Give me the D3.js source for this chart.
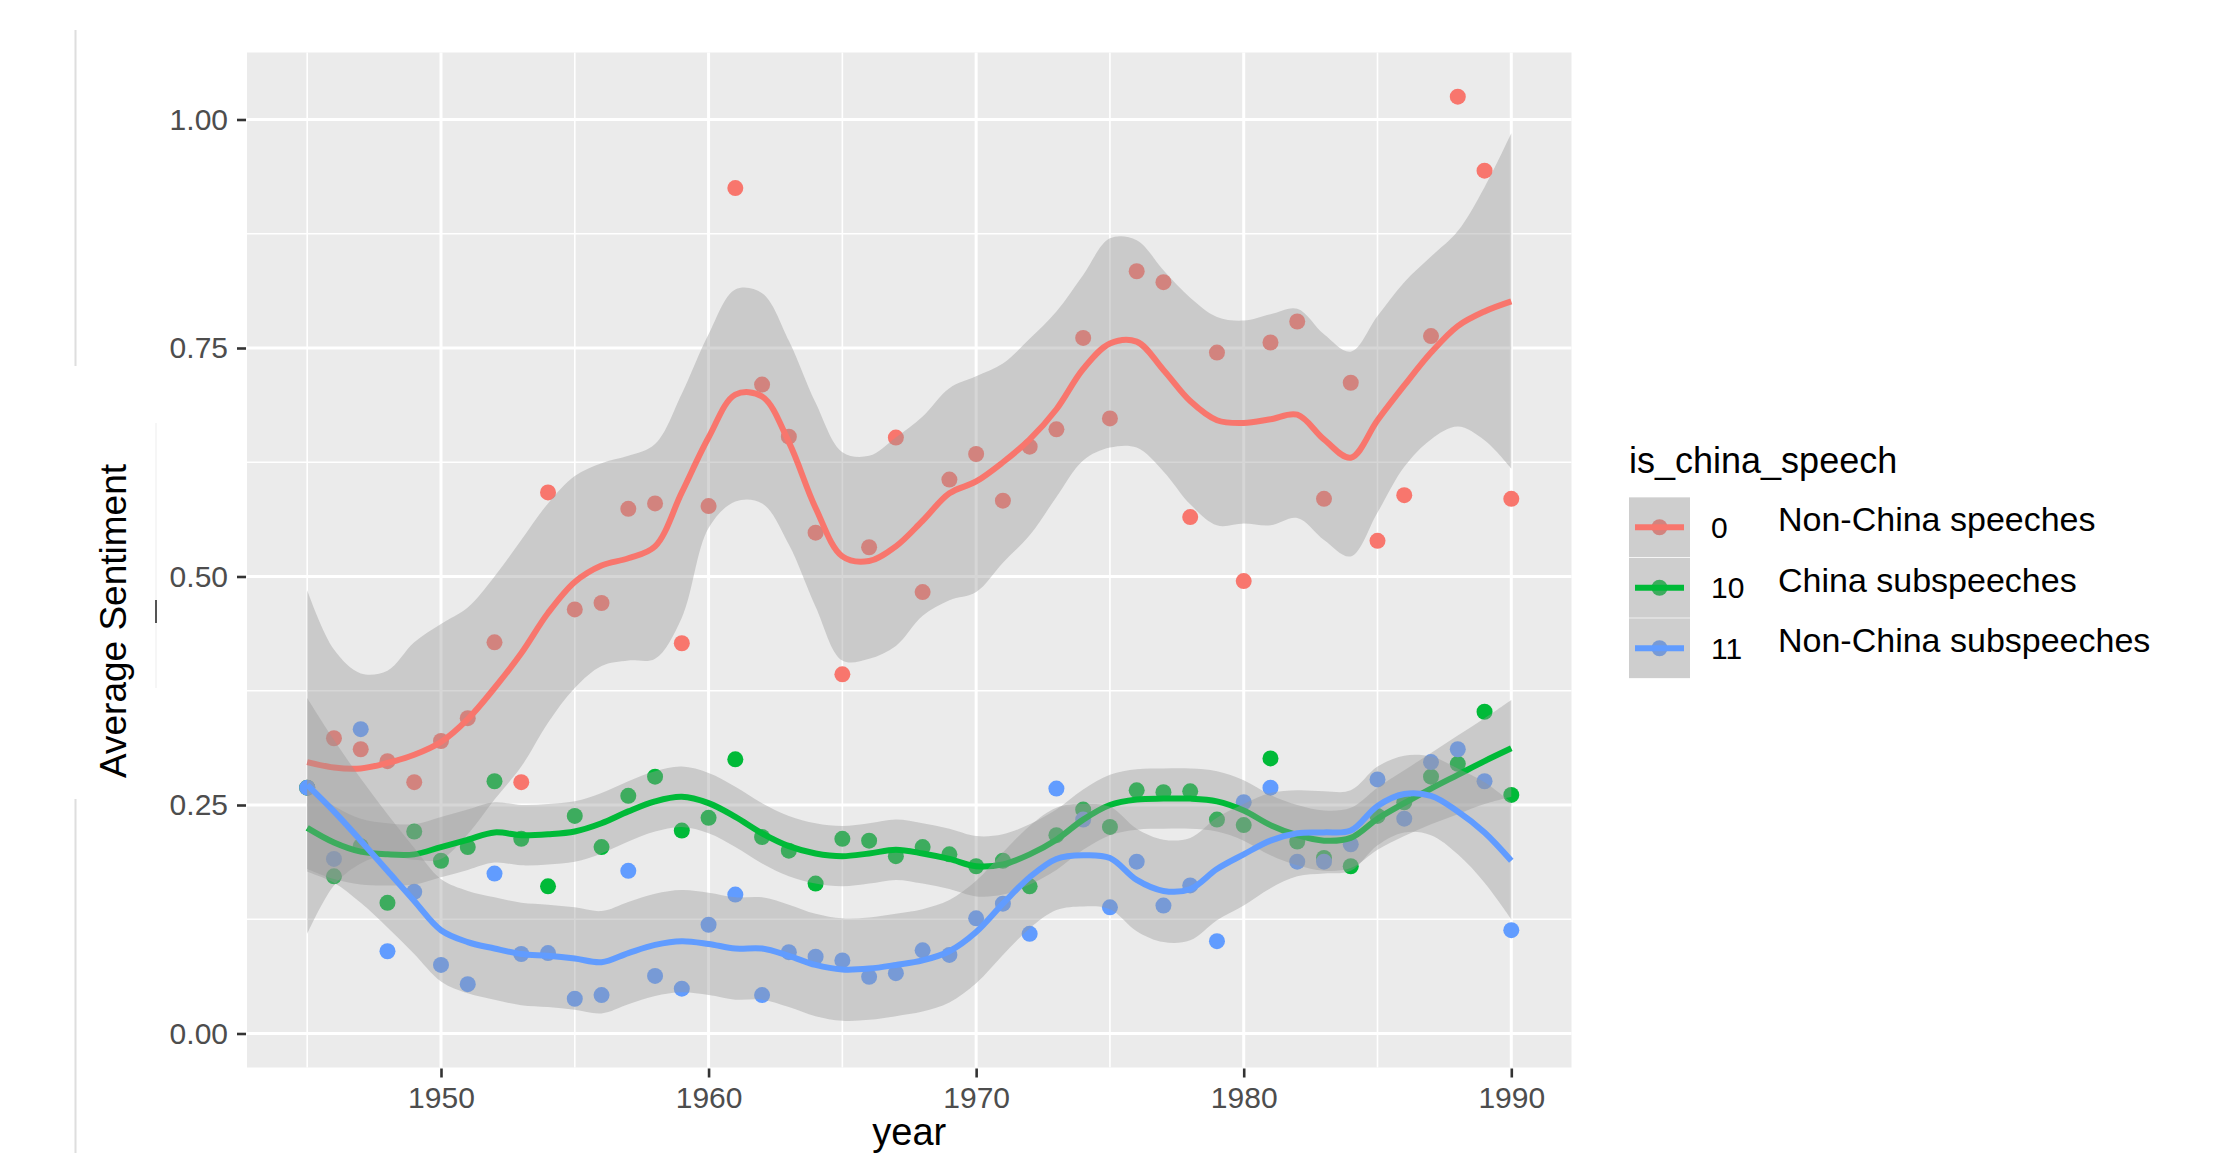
<!DOCTYPE html>
<html>
<head>
<meta charset="utf-8">
<script src="https://cdn.jsdelivr.net/npm/d3@7"></script>
<style>
  body { margin: 0; background: #ffffff; }
  svg { display: block; font-family: "Liberation Sans", Arial, sans-serif; }
</style>
</head>
<body>
<div id="chart"></div>
<script>
// average sentiment by year, three speech groups (ggplot-style loess with ribbons)

const years = [1945, 1946, 1947, 1948, 1949, 1950, 1951, 1952, 1953, 1954,
  1955, 1956, 1957, 1958, 1959, 1960, 1961, 1962, 1963, 1964,
  1965, 1966, 1967, 1968, 1969, 1970, 1971, 1972, 1973, 1974,
  1975, 1976, 1977, 1978, 1979, 1980, 1981, 1982, 1983, 1984,
  1985, 1986, 1987, 1988, 1989, 1990];

const groupKeys = ['0', '10', '11'];
const groupNames = ['Non-China speeches', 'China subspeeches', 'Non-China subspeeches'];
const groupColors = ['#F8766D', '#00BA38', '#619CFF'];

// yearly averages (points)
const nonChinaPoints = [0.269, 0.323, 0.311, 0.298, 0.275, 0.320, 0.345, 0.428, 0.275, 0.592,
  0.464, 0.471, 0.574, 0.580, 0.427, 0.577, 0.925, 0.710, 0.653, 0.548,
  0.393, 0.532, 0.652, 0.483, 0.606, 0.634, 0.583, 0.642, 0.661, 0.761,
  0.673, 0.834, 0.822, 0.565, 0.745, 0.495, 0.756, 0.779, 0.585, 0.712,
  0.539, 0.589, 0.763, 1.025, 0.944, 0.585];
const chinaSubPoints = [0.269, 0.172, 0.205, 0.143, 0.221, 0.189, 0.204, 0.276, 0.213, 0.161,
  0.238, 0.204, 0.260, 0.281, 0.222, 0.236, 0.300, 0.215, 0.200, 0.164,
  0.213, 0.211, 0.194, 0.204, 0.196, 0.183, 0.189, 0.161, 0.217, 0.245,
  0.226, 0.266, 0.264, 0.265, 0.234, 0.228, 0.301, 0.210, 0.192, 0.183,
  0.238, 0.253, 0.281, 0.295, 0.352, 0.261];
const nonChinaSubPoints = [0.269, 0.191, 0.333, 0.090, 0.155, 0.075, 0.054, 0.175, 0.087, 0.088,
  0.038, 0.042, 0.178, 0.063, 0.049, 0.119, 0.152, 0.042, 0.089, 0.084,
  0.080, 0.062, 0.066, 0.091, 0.086, 0.126, 0.142, 0.109, 0.268, 0.234,
  0.138, 0.188, 0.140, 0.162, 0.101, 0.253, 0.269, 0.188, 0.188, 0.207,
  0.278, 0.235, 0.297, 0.311, 0.276, 0.113];

// smoothed fit and confidence band, read per year
const nonChinaFit = [0.297, 0.291, 0.290, 0.296, 0.305, 0.319, 0.344, 0.378, 0.416, 0.460,
  0.494, 0.512, 0.520, 0.533, 0.592, 0.652, 0.699, 0.697, 0.647, 0.575,
  0.522, 0.517, 0.533, 0.561, 0.591, 0.604, 0.625, 0.650, 0.683, 0.727,
  0.755, 0.757, 0.726, 0.692, 0.671, 0.668, 0.672, 0.677, 0.650, 0.630,
  0.671, 0.709, 0.745, 0.774, 0.790, 0.801];
const nonChinaHigh = [0.485, 0.420, 0.394, 0.397, 0.428, 0.448, 0.466, 0.500, 0.540, 0.580,
  0.610, 0.624, 0.632, 0.645, 0.700, 0.765, 0.814, 0.810, 0.758, 0.690,
  0.636, 0.632, 0.652, 0.675, 0.706, 0.719, 0.733, 0.760, 0.790, 0.830,
  0.870, 0.868, 0.835, 0.805, 0.784, 0.780, 0.787, 0.793, 0.765, 0.746,
  0.785, 0.822, 0.850, 0.878, 0.926, 0.985];
const nonChinaLow = [0.109, 0.162, 0.186, 0.195, 0.190, 0.191, 0.218, 0.256, 0.292, 0.340,
  0.378, 0.402, 0.408, 0.410, 0.455, 0.553, 0.582, 0.580, 0.535, 0.467,
  0.408, 0.410, 0.424, 0.457, 0.474, 0.483, 0.515, 0.545, 0.587, 0.627,
  0.641, 0.641, 0.615, 0.579, 0.556, 0.558, 0.556, 0.564, 0.540, 0.522,
  0.570, 0.620, 0.650, 0.664, 0.649, 0.618];

const chinaSubFit = [0.225, 0.209, 0.199, 0.196, 0.196, 0.204, 0.212, 0.220, 0.217, 0.218,
  0.221, 0.230, 0.243, 0.254, 0.259, 0.252, 0.237, 0.219, 0.205, 0.197,
  0.194, 0.197, 0.201, 0.197, 0.191, 0.183, 0.185, 0.196, 0.212, 0.234,
  0.250, 0.256, 0.257, 0.257, 0.254, 0.244, 0.228, 0.217, 0.211, 0.214,
  0.235, 0.252, 0.268, 0.283, 0.298, 0.312];
const chinaSubHigh = [0.270, 0.249, 0.235, 0.230, 0.229, 0.237, 0.245, 0.253, 0.250, 0.251,
  0.254, 0.263, 0.276, 0.287, 0.292, 0.285, 0.270, 0.252, 0.238, 0.230,
  0.227, 0.230, 0.234, 0.230, 0.224, 0.216, 0.218, 0.229, 0.245, 0.267,
  0.283, 0.289, 0.290, 0.290, 0.287, 0.277, 0.261, 0.250, 0.244, 0.247,
  0.269, 0.288, 0.307, 0.326, 0.345, 0.365];
const chinaSubLow = [0.180, 0.169, 0.163, 0.162, 0.163, 0.171, 0.179, 0.187, 0.184, 0.185,
  0.188, 0.197, 0.210, 0.221, 0.226, 0.219, 0.204, 0.186, 0.172, 0.164,
  0.161, 0.164, 0.168, 0.164, 0.158, 0.150, 0.152, 0.163, 0.179, 0.201,
  0.217, 0.223, 0.224, 0.224, 0.221, 0.211, 0.195, 0.184, 0.178, 0.181,
  0.201, 0.216, 0.229, 0.240, 0.251, 0.259];

const nonChinaSubFit = [0.272, 0.243, 0.211, 0.178, 0.145, 0.113, 0.100, 0.093, 0.087, 0.085,
  0.082, 0.078, 0.088, 0.097, 0.101, 0.098, 0.093, 0.093, 0.085, 0.075,
  0.070, 0.071, 0.075, 0.080, 0.090, 0.111, 0.142, 0.171, 0.191, 0.195,
  0.192, 0.168, 0.156, 0.158, 0.180, 0.196, 0.211, 0.219, 0.220, 0.222,
  0.249, 0.262, 0.260, 0.243, 0.220, 0.189];
const nonChinaSubHigh = [0.367, 0.321, 0.279, 0.240, 0.203, 0.169, 0.156, 0.149, 0.143, 0.141,
  0.138, 0.134, 0.144, 0.153, 0.157, 0.154, 0.149, 0.149, 0.141, 0.131,
  0.126, 0.127, 0.131, 0.136, 0.146, 0.167, 0.198, 0.227, 0.247, 0.251,
  0.248, 0.224, 0.212, 0.214, 0.236, 0.251, 0.263, 0.266, 0.265, 0.266,
  0.292, 0.304, 0.303, 0.290, 0.275, 0.253];
const nonChinaSubLow = [0.177, 0.165, 0.143, 0.116, 0.087, 0.057, 0.044, 0.037, 0.031, 0.029,
  0.026, 0.022, 0.032, 0.041, 0.045, 0.042, 0.037, 0.037, 0.029, 0.019,
  0.014, 0.015, 0.019, 0.024, 0.034, 0.055, 0.086, 0.115, 0.135, 0.139,
  0.136, 0.112, 0.100, 0.102, 0.124, 0.140, 0.159, 0.172, 0.175, 0.178,
  0.206, 0.220, 0.217, 0.196, 0.165, 0.125];

const yTicks = [0, 0.25, 0.5, 0.75, 1];
const yMinorTicks = [0.125, 0.375, 0.625, 0.875];
const xTicks = [1950, 1960, 1970, 1980, 1990];
const xMinorTicks = [1945, 1955, 1965, 1975, 1985];

class sentimentChart {

  constructor(opts) {
    this.element = opts.element;
    this.draw();
  }

  draw() {
    this.width = 2226;
    this.height = 1153;

    this.element.innerHTML = '';
    this.svg = d3.select(this.element).append('svg')
      .attr('width', this.width)
      .attr('height', this.height);

    // panel box
    const p = {left: 247, right: 1571.5, top: 52.5, bottom: 1067.5};
    this.x = d3.scaleLinear().domain([1942.75, 1992.25]).range([p.left, p.right]);
    this.y = d3.scaleLinear().domain([-0.0372, 1.0733]).range([p.bottom, p.top]);
    const x = this.x, y = this.y;

    // stray screenshot edges on the left
    const edges = this.svg.append('g');
    edges.append('line').attr('x1', 75.5).attr('x2', 75.5).attr('y1', 30).attr('y2', 366)
      .attr('stroke', '#dedede').attr('stroke-width', 2);
    edges.append('line').attr('x1', 75.5).attr('x2', 75.5).attr('y1', 799).attr('y2', 1153)
      .attr('stroke', '#dedede').attr('stroke-width', 2);
    edges.append('line').attr('x1', 156).attr('x2', 156).attr('y1', 423).attr('y2', 688)
      .attr('stroke', '#f3f3f3').attr('stroke-width', 1.5);
    edges.append('line').attr('x1', 156).attr('x2', 156).attr('y1', 600).attr('y2', 623)
      .attr('stroke', '#555555').attr('stroke-width', 2);

    this.svg.append('rect')
      .attr('x', p.left).attr('y', p.top)
      .attr('width', p.right - p.left).attr('height', p.bottom - p.top)
      .attr('fill', '#EBEBEB');

    // grid
    const grid = this.svg.append('g');
    grid.selectAll('.hminor').data(yMinorTicks).enter().append('line')
      .attr('x1', p.left).attr('x2', p.right)
      .attr('y1', d => y(d)).attr('y2', d => y(d))
      .attr('stroke', '#ffffff').attr('stroke-width', 1.6);
    grid.selectAll('.vminor').data(xMinorTicks).enter().append('line')
      .attr('y1', p.top).attr('y2', p.bottom)
      .attr('x1', d => x(d)).attr('x2', d => x(d))
      .attr('stroke', '#ffffff').attr('stroke-width', 1.6);
    grid.selectAll('.hmajor').data(yTicks).enter().append('line')
      .attr('x1', p.left).attr('x2', p.right)
      .attr('y1', d => y(d)).attr('y2', d => y(d))
      .attr('stroke', '#ffffff').attr('stroke-width', 3);
    grid.selectAll('.vmajor').data(xTicks).enter().append('line')
      .attr('y1', p.top).attr('y2', p.bottom)
      .attr('x1', d => x(d)).attr('x2', d => x(d))
      .attr('stroke', '#ffffff').attr('stroke-width', 3);

    // axes
    const yAxis = this.svg.append('g')
      .attr('transform', 'translate(' + (p.left - 1) + ',0)')
      .call(d3.axisLeft(y).tickValues(yTicks).tickFormat(d3.format('.2f')).tickSize(9).tickPadding(9));
    const xAxis = this.svg.append('g')
      .attr('transform', 'translate(0,' + (p.bottom + 1) + ')')
      .call(d3.axisBottom(x).tickValues(xTicks).tickFormat(d3.format('d')).tickSize(9).tickPadding(9.5));
    [yAxis, xAxis].forEach(function(a) {
      a.select('.domain').remove();
      a.selectAll('line').attr('stroke', '#333333').attr('stroke-width', 2.6);
      a.selectAll('text')
        .attr('fill', '#4D4D4D')
        .style('font-size', '30px')
        .style('font-family', '"Liberation Sans", Arial, sans-serif');
    });

    // series
    const series = [
      {points: nonChinaPoints, fit: nonChinaFit, low: nonChinaLow, high: nonChinaHigh},
      {points: chinaSubPoints, fit: chinaSubFit, low: chinaSubLow, high: chinaSubHigh},
      {points: nonChinaSubPoints, fit: nonChinaSubFit, low: nonChinaSubLow, high: nonChinaSubHigh}
    ];

    // points first, the ribbons sit on top of them
    const pts = this.svg.append('g');
    series.forEach(function(s, i) {
      pts.append('g').selectAll('circle')
        .data(years.map((yr, j) => ({year: yr, value: s.points[j]})))
        .enter().append('circle')
        .attr('cx', d => x(d.year))
        .attr('cy', d => y(d.value))
        .attr('r', 8)
        .attr('fill', groupColors[i]);
    });

    const area = d3.area()
      .x(d => x(d.year))
      .y0(d => y(d.low))
      .y1(d => y(d.high))
      .curve(d3.curveCatmullRom);
    const line = d3.line()
      .x(d => x(d.year))
      .y(d => y(d.fit))
      .curve(d3.curveCatmullRom);

    const smooth = this.svg.append('g');
    series.forEach(function(s, i) {
      const rows = years.map((yr, j) => ({year: yr, fit: s.fit[j], low: s.low[j], high: s.high[j]}));
      smooth.append('path')
        .attr('d', area(rows))
        .attr('fill', '#999999')
        .attr('fill-opacity', 0.4);
      smooth.append('path')
        .attr('d', line(rows))
        .attr('fill', 'none')
        .attr('stroke', groupColors[i])
        .attr('stroke-width', 6)
        .attr('stroke-linejoin', 'round');
    });

    // axis titles
    this.svg.append('text')
      .attr('x', (p.left + p.right) / 2)
      .attr('y', 1145)
      .attr('text-anchor', 'middle')
      .style('font-size', '38px')
      .attr('fill', '#000000')
      .text('year');
    this.svg.append('text')
      .attr('transform', 'translate(126,' + ((p.top + p.bottom) / 2 + 61) + ') rotate(-90)')
      .attr('text-anchor', 'middle')
      .style('font-size', '37px')
      .attr('fill', '#000000')
      .text('Average Sentiment');

    this.drawLegend();
  }

  drawLegend() {
    const lg = this.svg.append('g');
    const keyX = 1629, keyTop = 497, keyW = 61, keyH = 60.5;

    lg.append('text')
      .attr('x', 1629)
      .attr('y', 473)
      .style('font-size', '36px')
      .attr('fill', '#000000')
      .text('is_china_speech');

    groupKeys.forEach(function(k, i) {
      const cy = keyTop + keyH * i + keyH / 2;
      const key = lg.append('g');
      key.append('rect')
        .attr('x', keyX).attr('y', keyTop + keyH * i)
        .attr('width', keyW).attr('height', keyH)
        .attr('fill', '#F2F2F2');
      key.append('circle')
        .attr('cx', keyX + keyW / 2).attr('cy', cy).attr('r', 8)
        .attr('fill', groupColors[i]);
      key.append('rect')
        .attr('x', keyX).attr('y', keyTop + keyH * i + 0.5)
        .attr('width', keyW).attr('height', keyH - 1)
        .attr('fill', '#999999').attr('fill-opacity', 0.4);
      key.append('line')
        .attr('x1', keyX + 6).attr('x2', keyX + keyW - 6)
        .attr('y1', cy).attr('y2', cy)
        .attr('stroke', groupColors[i]).attr('stroke-width', 6);

      lg.append('text')
        .attr('x', 1711)
        .attr('y', cy + 10.5)
        .style('font-size', '30px')
        .attr('fill', '#000000')
        .text(k);
      lg.append('text')
        .attr('x', 1778)
        .attr('y', cy + 4)
        .style('font-size', '34px')
        .attr('fill', '#000000')
        .text(groupNames[i]);
    });
  }
}

new sentimentChart({element: document.getElementById('chart')});
</script>
</body>
</html>
